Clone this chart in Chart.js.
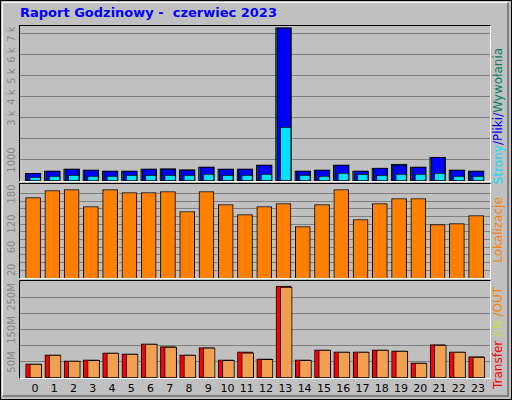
<!DOCTYPE html>
<html><head><meta charset="utf-8">
<script src="https://cdn.jsdelivr.net/npm/chart.js@4"></script>
<style>
body{margin:0;background:#fff;font-family:"DejaVu Sans",sans-serif}
#frame{position:absolute;left:0;top:0;width:510px;height:398px;background:#c0c0c0;border:1px solid #000}
#frame:after{content:"";position:absolute;left:1px;top:1px;right:2px;bottom:2px;border-right:2px solid #808080;border-bottom:2px solid #808080;border-top:1px solid #fff;border-left:1px solid #fff}
.panel{position:absolute;left:19px;width:470px;border:1px solid;border-color:#000 #fff #fff #000;z-index:2}
.lbl{position:absolute;font-size:10px;color:#888;white-space:nowrap;transform:translate(-50%,-50%) rotate(-90deg);z-index:3}
.side{position:absolute;font-size:12px;white-space:nowrap;transform:translate(-50%,-50%) rotate(-90deg);z-index:3}
.xl{position:absolute;top:382px;font-size:11px;transform:translateX(-50%);z-index:3}
#title{position:absolute;left:20px;top:5px;font-size:13px;font-weight:bold;color:#0000ff;z-index:3}
</style></head><body>
<div id="frame"></div>
<div id="title">Raport Godzinowy -&nbsp; czerwiec 2023</div>
<div class="panel" id="p1" style="top:25px;height:155px"><canvas id="c1"></canvas></div>
<div class="panel" id="p2" style="top:183px;height:94px"><canvas id="c2"></canvas></div>
<div class="panel" id="p3" style="top:280px;height:97px"><canvas id="c3"></canvas></div>
<div class="side" style="left:498px;top:116px"><span style="color:#00e0ff">Strony</span><span style="color:#0000ff">/Pliki/</span><span style="color:#00805c">Wywołania</span></div>
<div class="side" style="left:498px;top:230px;color:#ff8000">Lokalizacje</div>
<div class="side" style="left:498px;top:338px"><span style="color:#ff0000">Transfer </span><span style="color:#c8e040">/IN </span><span style="color:#ff8000">/OUT</span></div>
<script>
const hours = ['0','1','2','3','4','5','6','7','8','9','10','11','12','13','14','15','16','17','18','19','20','21','22','23'];
const hits  = [370,480,575,530,480,480,575,590,540,670,575,575,765,7300,480,530,765,480,620,810,670,1135,530,480];
const files = [365,476,571,524,476,476,571,571,524,667,571,571,762,7290,476,524,762,476,619,762,667,1130,524,476];
const pages = [190,238,286,238,238,286,286,286,286,333,286,286,333,2570,286,238,381,333,286,333,333,381,238,238];
const sites = [165,179,181,147,181,175,175,177,137,177,151,131,147,153,107,151,181,121,153,163,163,111,113,129];
const kbytes = [44,72,53,56,78,75,106,97,72,94,56,81,59,284,56,87,81,81,87,84,47,103,81,66];
const kout   = [43,71,52,55,77,74,105,96,71,93,55,78,58,281,55,86,80,80,86,83,46,102,80,65];
const topTicks = [[1000,'1000'],[3000,'3 k'],[4000,'4 k'],[5000,'5 k'],[6000,'6 k'],[7000,'7 k']];
const midTicks = [[20,'20'],[66,'60'],[112,'120'],[173,'180']];
const botTicks = [[50,'50M'],[150,'150M'],[250,'250M']];

function pts(arr, off){ return arr.map((v,i)=>({x:i+off,y:v})); }

function makeChart(id, datasets, yMin, yMax, gridVals, labels){
  const ch = new Chart(document.getElementById(id), {
    type:'bar',
    data:{datasets:datasets},
    options:{
      responsive:true, maintainAspectRatio:false, animation:false,
      layout:{padding:0},
      plugins:{legend:{display:false},tooltip:{enabled:false}},
      datasets:{bar:{grouped:false,borderColor:'#000',borderWidth:1,borderSkipped:false}},
      scales:{
        x:{type:'linear',offset:false,min:-0.78,max:23.62,display:false},
        y:{min:yMin,max:yMax,border:{display:false},
           grid:{color:'#808080',lineWidth:1,drawTicks:false},
           ticks:{display:false},
           afterBuildTicks:(ax)=>{ax.ticks=gridVals.map(v=>({value:v}));}}
      }
    }
  });
  const box = document.getElementById(id).parentElement;
  const top = box.offsetTop + 1;
  labels.forEach(([v,t])=>{
    const d = document.createElement('div');
    d.className='lbl'; d.textContent=t;
    d.style.left='11px'; d.style.top=(top+ch.scales.y.getPixelForValue(v))+'px';
    document.body.appendChild(d);
  });
  return ch;
}

makeChart('c1',[
  {data:pts(hits,-0.1),backgroundColor:'#00805c',barThickness:16,order:3},
  {data:pts(files,-0.08),backgroundColor:'#0000ff',barThickness:14,order:2},
  {data:pts(pages,0.01),backgroundColor:'#00e0ff',barThickness:11,order:1}
],0,7380,[1000,2000,3000,4000,5000,6000,7000],topTicks);

const midGrid=[]; for(let k=0;k<11;k++) midGrid.push(20+k*15.3);
makeChart('c2',[
  {data:pts(sites,-0.1),backgroundColor:'#ff8000',barThickness:15}
],4,192,midGrid,midTicks);

makeChart('c3',[
  {data:pts(kbytes,-0.1),backgroundColor:'#ff0000',barThickness:15,order:2},
  {data:pts(kout,0.04),backgroundColor:'#f0a050',barThickness:12,order:1}
],0,300,[50,100,150,200,250],botTicks);

hours.forEach((h,i)=>{
  const d=document.createElement('div'); d.className='xl'; d.textContent=h;
  d.style.left=(35+i*19.26)+'px'; document.body.appendChild(d);
});
</script>
</body></html>
